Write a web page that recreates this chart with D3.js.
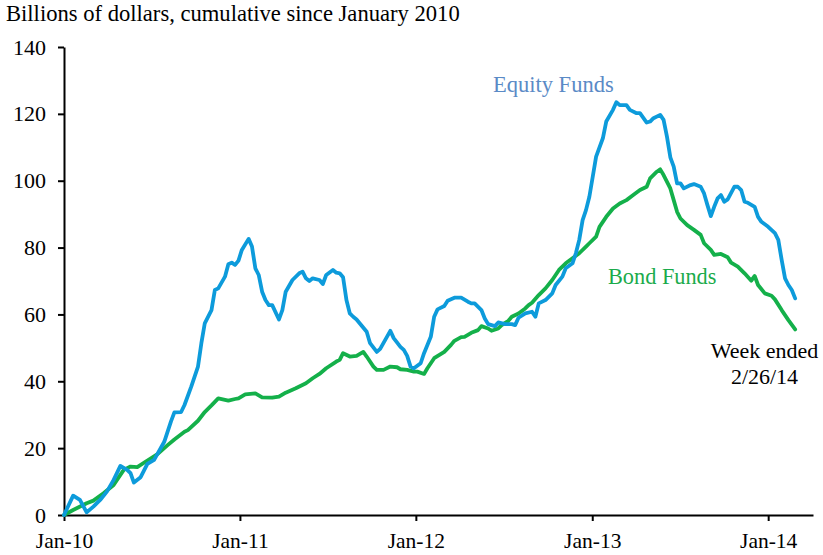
<!DOCTYPE html>
<html>
<head>
<meta charset="utf-8">
<script src="https://cdn.jsdelivr.net/npm/d3@7"></script>
<style>
  html, body { margin: 0; padding: 0; background: #fff; }
  svg { display: block; }
</style>
</head>
<body>
<svg id="chart" width="823" height="555"></svg>
<script>
// Weekly data: week index counted from week ended 1/6/2010
const equityWeeks = [0,2,4,6,8,10,12,14,16,18,19,20,22,24,26,29,31,32,34,35,37,39,40,41,43,44,45,47,48,49,50,51,52,54,55,56,57,58,59,60,61,63,64,65,67,69,70,71,72,73,75,76,77,79,80,81,82,83,84,85,86,89,90,92,93,95,96,97,99,100,101,102,103,105,106,108,109,110,112,113,115,117,119,120,121,123,124,125,127,128,130,132,133,134,136,138,139,140,142,144,145,147,148,150,151,152,153,154,155,156,157,159,160,162,163,164,166,167,169,170,172,173,174,176,177,178,179,180,181,182,183,185,186,188,189,190,191,192,193,194,195,196,198,199,200,201,202,204,205,206,208,210,211,212,213,214,215,216];
const equityValues = [0,5.8,4.5,0.8,2.5,4.5,7.0,10.5,14.7,13.5,12.5,9.7,11.3,15.3,16.5,21.9,28.0,30.7,30.8,32.9,38.4,44.4,51.4,57.3,61.3,67.3,67.8,71.3,75.0,75.5,74.8,76.1,79.3,82.6,80.3,73.8,71.8,66.8,64.3,62.8,62.8,58.5,61.3,66.8,70.3,72.3,72.8,70.8,70.0,70.8,70.3,69.1,71.8,73.3,72.5,72.3,71.1,64.3,60.3,59.3,58.5,54.8,51.4,48.8,49.7,53.3,55.1,52.9,50.3,49.4,47.6,44.4,43.9,45.4,48.4,53.3,59.3,61.5,62.5,64.1,65.0,65.0,63.8,63.3,63.3,61.3,58.8,57.1,56.5,57.6,57.1,57.1,56.8,59.0,60.3,60.8,59.3,63.3,64.3,66.3,68.8,71.3,73.8,75.3,78.3,82.3,88.2,91.2,95.2,101.2,107.2,112.7,117.7,121.2,123.5,122.6,122.6,121.2,120.2,120.2,117.4,117.7,118.7,119.7,118.2,113.2,107.0,104.2,99.2,99.2,97.7,98.7,99.0,98.2,96.2,92.7,89.4,92.2,94.7,95.7,93.7,94.4,98.2,98.2,97.2,93.7,93.4,92.2,89.2,87.7,86.2,84.3,82.3,76.3,70.8,68.8,67.3,64.8];

const bondWeeks = [0,2,6,8,11,14,17,19,21,24,27,30,32,35,36,39,41,43,45,48,50,51,53,56,58,61,63,65,68,71,73,75,77,80,81,82,84,86,88,89,91,92,94,96,98,99,101,103,104,106,107,109,112,114,115,117,118,120,122,123,125,126,128,129,131,132,134,136,137,138,140,142,144,146,148,150,152,154,155,157,158,160,162,164,166,168,170,172,173,175,176,177,179,180,181,182,184,186,188,189,191,192,194,196,197,199,201,203,204,205,207,209,210,212,214,216];
const bondValues = [0,1.5,3.5,4.3,6.5,9.0,13.5,14.5,14.3,16.3,18.2,20.9,22.6,24.9,25.4,28.2,30.8,32.8,34.9,34.2,34.7,34.9,36.1,36.4,35.2,35.1,35.4,36.6,37.9,39.4,40.9,42.2,43.9,45.9,46.4,48.4,47.4,47.6,48.8,47.4,44.4,43.4,43.4,44.4,44.2,43.6,43.4,42.9,42.9,42.2,43.9,46.9,48.8,50.9,52.1,53.2,53.3,54.5,55.3,56.5,55.8,55.1,55.8,56.8,58.1,59.3,60.3,61.8,62.8,63.5,65.8,67.8,70.3,73.3,75.3,76.8,78.3,80.3,81.3,83.3,86.2,89.2,91.7,93.2,94.2,95.7,97.2,98.2,100.7,102.7,103.4,101.7,97.7,94.2,90.7,88.7,86.7,85.3,83.8,81.3,79.3,77.8,78.1,77.1,75.5,74.3,72.3,70.1,71.5,68.8,66.3,65.6,64.5,61.3,58.3,55.5];

const yTicks = [0,20,40,60,80,100,120,140];
const xTickLabels = ["Jan-10","Jan-11","Jan-12","Jan-13","Jan-14"];
const xTickDates = [new Date(2010,0,1), new Date(2011,0,1), new Date(2012,0,1), new Date(2013,0,1), new Date(2014,0,1)];
const titleText = "Billions of dollars, cumulative since January 2010";
const seriesNames = ["Equity Funds", "Bond Funds"];
const noteLines = ["Week ended", "2/26/14"];

const FONT = "'Liberation Serif', 'Times New Roman', serif";
const firstWeek = new Date(2010,0,6);
const weekDate = w => d3.timeDay.offset(firstWeek, 7*w);

const equity = equityWeeks.map((w,i) => ({date: weekDate(w), value: equityValues[i]}));
const bond = bondWeeks.map((w,i) => ({date: weekDate(w), value: bondValues[i]}));
equity[0].date = new Date(2010,0,1);
bond[0].date = new Date(2010,0,1);

const svg = d3.select("#chart");
const x = d3.scaleTime().domain([new Date(2010,0,1), new Date(2014,3,4)]).range([64, 813]);
const y = d3.scaleLinear().domain([0,140]).range([515, 47]);

// Title
svg.append("text").attr("x", 6).attr("y", 21).attr("font-family", FONT).attr("font-size", 22.6).attr("fill", "#000").text(titleText);

// Y axis
const yAxis = d3.axisLeft(y).tickValues(yTicks).tickSize(6).tickSizeOuter(0).tickPadding(12).tickFormat(d3.format("d"));
const gy = svg.append("g").attr("transform", "translate(64,0)").call(yAxis).attr("font-family", FONT);
gy.selectAll("text").attr("font-size", 22).attr("fill", "#000").attr("font-family", FONT);
gy.selectAll("line").attr("stroke", "#000").attr("stroke-width", 2);
gy.select(".domain").attr("stroke", "#000").attr("stroke-width", 2);

// X axis
const xAxis = d3.axisBottom(x).tickValues(xTickDates).tickSize(6).tickSizeOuter(0).tickPadding(12)
  .tickFormat((d,i) => xTickLabels[i]);
const gx = svg.append("g").attr("transform", "translate(0,515)").call(xAxis).attr("font-family", FONT);
gx.selectAll("text").attr("font-size", 21.5).attr("fill", "#000").attr("font-family", FONT);
gx.selectAll("line").attr("stroke", "#000").attr("stroke-width", 2);
gx.select(".domain").attr("stroke", "#000").attr("stroke-width", 2);

const line = d3.line().x(d => x(d.date)).y(d => y(d.value)).curve(d3.curveLinear);

svg.append("path").datum(bond).attr("d", line).attr("fill", "none")
  .attr("stroke", "#14b04a").attr("stroke-width", 3.8).attr("stroke-linejoin", "round").attr("stroke-linecap", "round");
svg.append("path").datum(equity).attr("d", line).attr("fill", "none")
  .attr("stroke", "#0d9bdb").attr("stroke-width", 3.8).attr("stroke-linejoin", "round").attr("stroke-linecap", "round");

// Labels
svg.append("text").attr("x", 493).attr("y", 92).attr("font-family", FONT).attr("font-size", 22.5).attr("fill", "#5a8ac6").text(seriesNames[0]);
svg.append("text").attr("x", 608).attr("y", 284).attr("font-family", FONT).attr("font-size", 22.3).attr("fill", "#1aab4b").text(seriesNames[1]);
svg.append("text").attr("x", 764.5).attr("y", 358).attr("font-family", FONT).attr("font-size", 22).attr("text-anchor", "middle").attr("fill", "#000").text(noteLines[0]);
svg.append("text").attr("x", 764.5).attr("y", 384).attr("font-family", FONT).attr("font-size", 22).attr("text-anchor", "middle").attr("fill", "#000").text(noteLines[1]);
</script>
</body>
</html>
